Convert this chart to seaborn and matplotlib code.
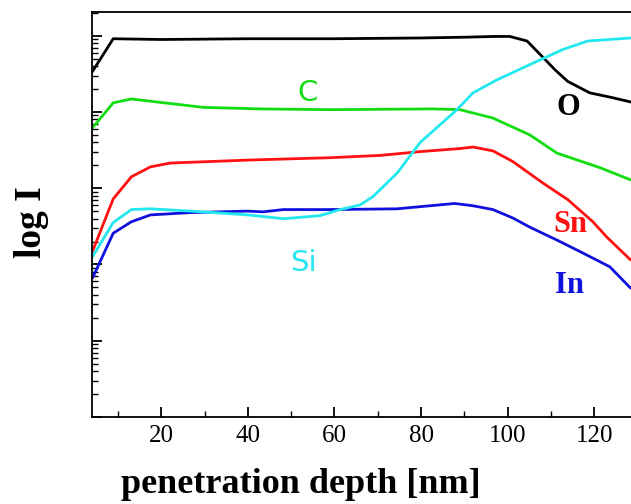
import numpy as np
import seaborn as sns
import matplotlib.pyplot as plt
import pandas as pd
from matplotlib.ticker import MultipleLocator, LogLocator, NullFormatter

# depth profiles, values as log10(I)
o_x = [4.1, 8.9, 20, 40, 60, 80, 90, 97, 100.5, 104.5, 108.1, 111, 113.9, 119, 124, 128.5]
o_y = [4.53, 4.96, 4.95, 4.96, 4.96, 4.97, 4.98, 4.99, 4.99, 4.93, 4.72, 4.55, 4.40, 4.25, 4.19, 4.13]

c_x = [4.1, 8.9, 13.1, 29.7, 42.9, 59, 82.8, 89, 96.6, 105.1, 111.4, 121.3, 128.4]
c_y = [3.79, 4.12, 4.17, 4.06, 4.04, 4.03, 4.04, 4.03, 3.92, 3.70, 3.46, 3.27, 3.11]

sn_x = [4.1, 8.9, 13.1, 17.5, 22.1, 40.5, 59, 70.5, 79.8, 89, 92, 96.6, 101.2, 108.1, 113.9, 119.7, 122.9, 128.4]
sn_y = [2.17, 2.86, 3.15, 3.28, 3.33, 3.37, 3.40, 3.43, 3.48, 3.52, 3.54, 3.49, 3.35, 3.07, 2.85, 2.56, 2.36, 2.06]

in_x = [4.1, 8.9, 13.1, 17.5, 26.7, 39.9, 43.5, 48.2, 59, 74.5, 87.8, 92, 96.6, 101.2, 105.1, 111.4, 117.4, 123.6, 128.4]
in_y = [1.82, 2.41, 2.56, 2.65, 2.68, 2.70, 2.69, 2.72, 2.72, 2.73, 2.80, 2.77, 2.72, 2.61, 2.49, 2.32, 2.15, 1.97, 1.69]

si_x = [4.1, 8.9, 13.1, 17.5, 29.7, 40, 48.2, 56.7, 61.3, 65.9, 68.9, 74.5, 79.8, 88.3, 92, 97.5, 105.1, 112.8, 118.5, 128.4]
si_y = [2.10, 2.55, 2.72, 2.73, 2.69, 2.65, 2.60, 2.64, 2.72, 2.78, 2.89, 3.20, 3.60, 4.03, 4.25, 4.42, 4.62, 4.82, 4.93, 4.97]

elements = ['O', 'C', 'Sn', 'In', 'Si']
colores = {'O': 'black', 'C': '#11dd11', 'Sn': '#ff1111', 'In': '#1111dd', 'Si': '#22e8f0'}

frames = []
for el, xs, ys in zip(elements, [o_x, c_x, sn_x, in_x, si_x], [o_y, c_y, sn_y, in_y, si_y]):
    frames.append(pd.DataFrame({'depth': xs, 'I': 10 ** np.array(ys), 'el': el}))
df = pd.concat(frames, ignore_index=True)

sns.set_style("ticks")
plt.rcParams['font.family'] = ['Liberation Serif', 'DejaVu Serif']
plt.rcParams['text.color'] = 'black'
plt.rcParams['axes.labelcolor'] = 'black'
plt.rcParams['axes.edgecolor'] = 'black'
plt.rcParams['xtick.color'] = 'black'
plt.rcParams['ytick.color'] = 'black'

fig = plt.figure(figsize=(6.31, 5.04), dpi=100)
ax = fig.add_axes([0.1458, 0.1726, 0.8542, 0.8035])

sns.lineplot(data=df, x='depth', y='I', hue='el', palette=colores, estimator=None,
             sort=False, linewidth=2.0, legend=False, ax=ax)

ax.set_yscale('log')
ax.set_xlim(4.0, 128.5)
ax.set_ylim(1, 10 ** 5.31)

ax.xaxis.set_major_locator(MultipleLocator(20))
ax.xaxis.set_minor_locator(MultipleLocator(10))
ax.yaxis.set_major_locator(LogLocator(base=10, numticks=10))
ax.yaxis.set_minor_locator(LogLocator(base=10, subs=np.arange(2, 10), numticks=20))
ax.yaxis.set_major_formatter(NullFormatter())
ax.yaxis.set_minor_formatter(NullFormatter())

ax.tick_params(axis='both', which='major', direction='in', length=7, width=1.3, labelsize=18)
ax.tick_params(axis='both', which='minor', direction='in', length=4, width=1.0)
ax.tick_params(axis='x', pad=6)
for s in ['left', 'bottom', 'top']:
    ax.spines[s].set_linewidth(1.3)
ax.spines['right'].set_visible(False)

ax.set_xlabel('penetration depth [nm]', fontsize=26, fontweight='bold')
ax.set_ylabel('log I', fontsize=27, fontweight='bold')
ax.xaxis.set_label_coords(0.388, -0.126)
ax.yaxis.set_label_coords(-0.080, 0.481)

# element labels
ax.text(53.9, 10 ** 4.25, 'C', color=colores['C'], fontsize=21, family='DejaVu Sans', ha='center', va='center')
ax.text(52.8, 10 ** 2.02, 'Si', color=colores['Si'], fontsize=21, family='DejaVu Sans', ha='center', va='center')
ax.text(114.1, 10 ** 4.06, 'O', color='black', fontsize=22, fontweight='bold', ha='center', va='center')
ax.text(114.4, 10 ** 2.52, 'Sn', color=colores['Sn'], fontsize=22, fontweight='bold', ha='center', va='center')
ax.text(114.4, 10 ** 1.72, 'In', color=colores['In'], fontsize=22, fontweight='bold', ha='center', va='center')

fig.savefig('out.png', dpi=100)
